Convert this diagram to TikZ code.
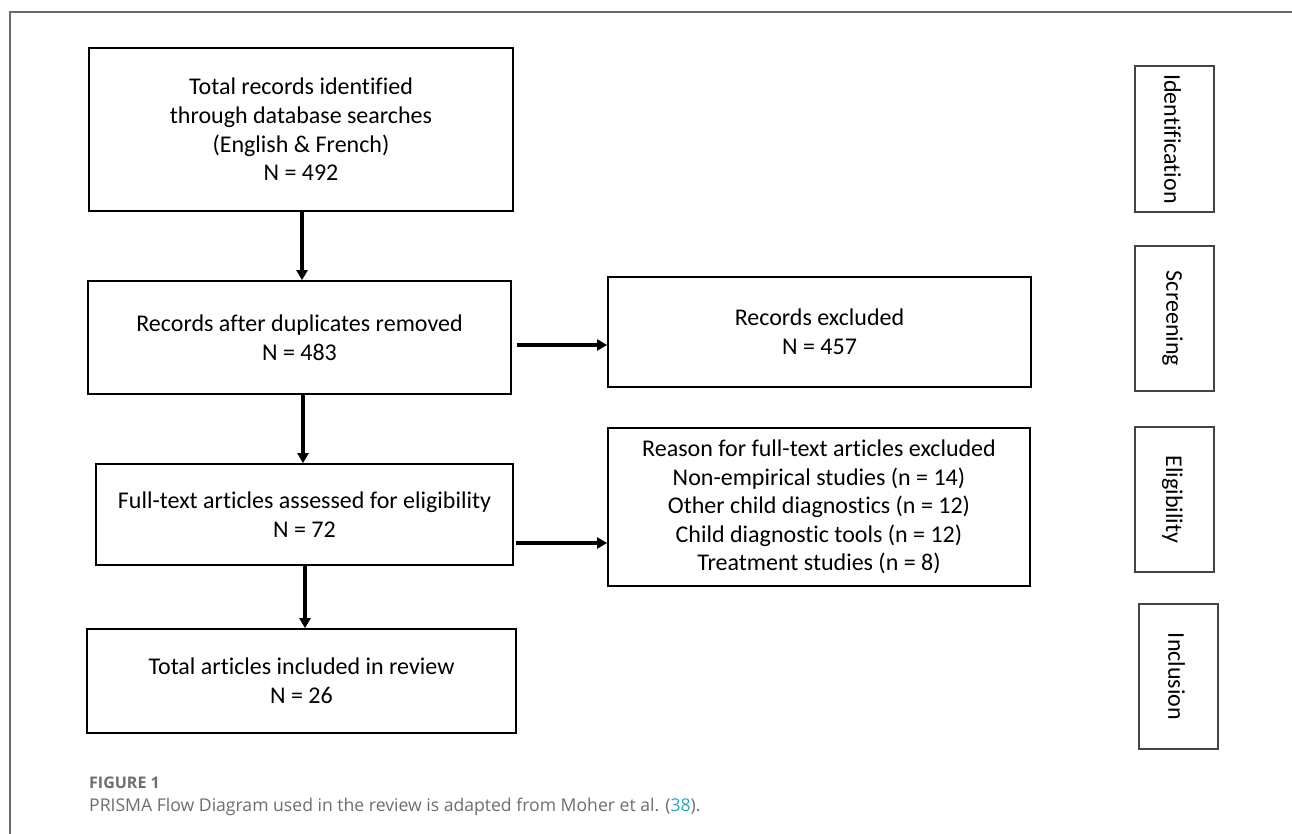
\documentclass[tikz,border=0pt]{standalone}
\usepackage{fontspec}
\setmainfont{Carlito}[Ligatures=NoCommon]
\newfontfamily\capfont{Open Sans}
\usetikzlibrary{arrows.meta,calc}
\definecolor{framegray}{HTML}{6A6A6A}
\definecolor{capgray}{HTML}{6E6E6E}
\definecolor{linkteal}{HTML}{2FA3C4}
\definecolor{sidegray}{HTML}{444444}
\begin{document}
\begin{tikzpicture}[x=1pt,y=-1pt,
  flowbox/.style={draw=black,line width=1.8pt,inner sep=0pt,align=center,
    font=\fontsize{24}{28.6}\selectfont,text=black},
  sidebox/.style={draw=sidegray,line width=1.6pt,minimum width=79pt,minimum height=146pt,inner sep=0pt},
  sidelabel/.style={rotate=-90,font=\fontsize{24}{28}\selectfont,text=black,inner sep=0pt},
  arr/.style={line width=3.8pt,-{Triangle[length=10pt,width=11pt]}}]
\useasboundingbox (0,0) rectangle (1292,834);
\fill[white] (0,0) rectangle (1292,834);
% open frame
\draw[framegray,line width=1.4pt] (10,834) -- (10,12) -- (1292,12);

% main flow boxes
\node[flowbox,minimum width=424pt,minimum height=163pt] (b1) at (301,129.5)
  {Total records identified\\through database searches\\(English \& French)\\N = 492};
\node[flowbox,minimum width=423pt,minimum height=113pt] (b2) at (299.5,337.5)
  {Records after duplicates removed\\N = 483};
\node[flowbox,minimum width=417pt,minimum height=101pt] (b3) at (304.5,514.5)
  {Full-text articles assessed for eligibility\\N = 72};
\node[flowbox,minimum width=429pt,minimum height=104pt] (b4) at (301.5,681)
  {Total articles included in review\\N = 26};
\node[flowbox,minimum width=423pt,minimum height=110pt] (ex) at (819.5,332)
  {Records excluded\\N = 457};
\node[flowbox,minimum width=422pt,minimum height=158pt] (rs) at (819,507)
  {Reason for full-text articles excluded\\Non-empirical studies (n = 14)\\Other child diagnostics (n = 12)\\Child diagnostic tools (n = 12)\\Treatment studies (n = 8)};

% side stage boxes
\node[sidebox] (sid) at (1174.5,139) {};
\node[sidelabel] (lid) at ([xshift=-2pt]sid.center) {Identification};
\node[sidebox,minimum height=145pt] (ssc) at (1174.5,318.5) {};
\node[sidelabel] (lsc) at ([xshift=-2pt]ssc.center) {Screening};
\node[sidebox,minimum height=145pt] (sel) at (1174.5,499.5) {};
\node[sidelabel] (lel) at ([xshift=-2pt]sel.center) {Eligibility};
\node[sidebox,minimum height=145pt] (sin) at (1178.5,676.5) {};
\node[sidelabel] (lin) at ([xshift=-2pt]sin.center) {Inclusion};

% connectors
\draw[arr] ([xshift=1pt]b1.south) -- ([xshift=1pt]b1.south |- b2.north);
\draw[arr] ([xshift=-1.5pt]b3.north |- b2.south) -- ([xshift=-1.5pt]b3.north);
\draw[arr] ([xshift=0.5pt]b3.south) -- ([xshift=0.5pt]b3.south |- b4.north);
\coordinate (h1) at ([shift={(5,7.5)}]b2.east);
\draw[arr] (h1) -- (h1 -| ex.west);
\coordinate (h2) at ([shift={(2,28.5)}]b3.east);
\draw[arr] (h2) -- (h2 -| rs.west);

% caption
\node[anchor=base west,inner sep=0pt,font=\capfont\bfseries\fontsize{16}{18}\selectfont,text=capgray] (fig) at (89,788) {FIGURE 1};
\node[anchor=base west,inner sep=0pt,font=\capfont\fontsize{17.6}{20}\selectfont,text=capgray] (cap) at (89,811)
  {PRISMA Flow Diagram used in the review is adapted from Moher et al. (\textcolor{linkteal}{38}).};
\end{tikzpicture}
\end{document}
